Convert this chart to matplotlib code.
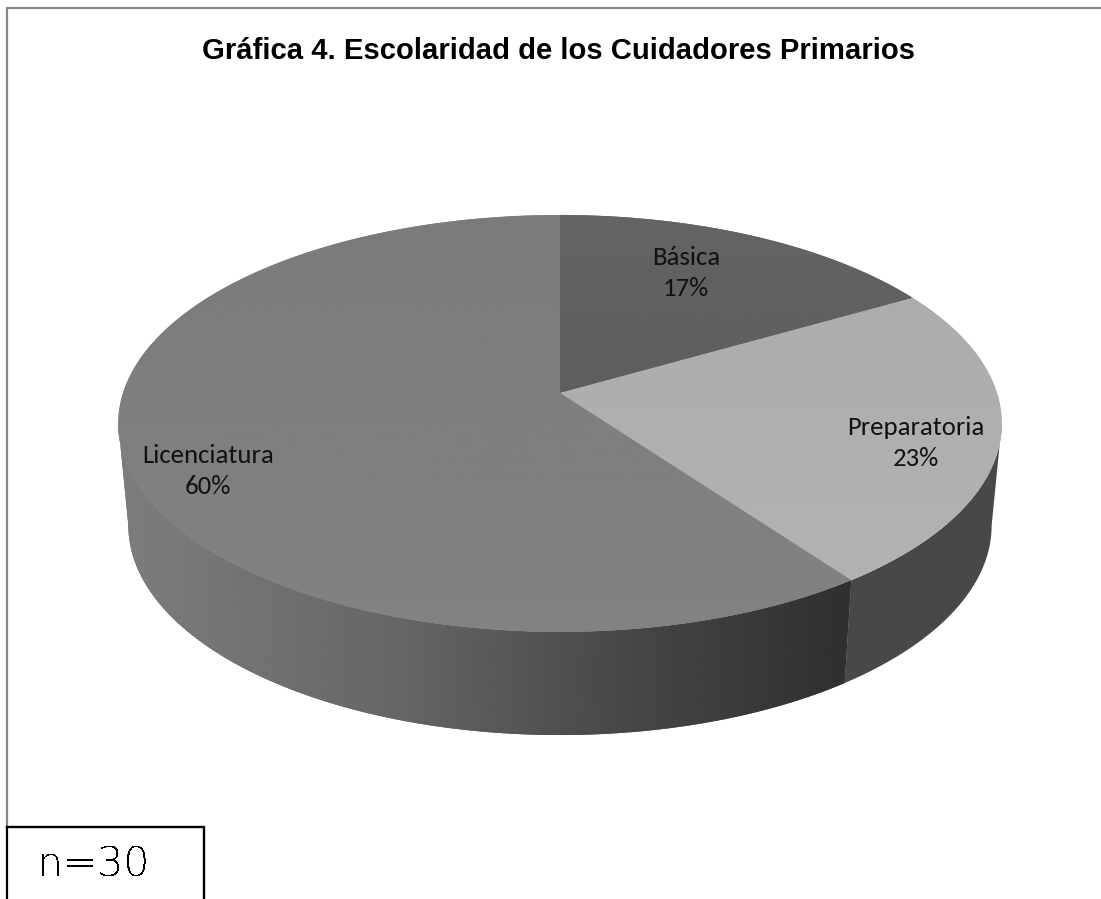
import numpy as np
import matplotlib
matplotlib.use('Agg')
import matplotlib.pyplot as plt
from matplotlib.patches import Polygon

# datos de la grafica (n=30)
categorias = ['Básica', 'Preparatoria', 'Licenciatura']
cuidadores = [5, 7, 18]
titulo = 'Gráfica 4. Escolaridad de los Cuidadores Primarios'
nota = 'n=30'

# tonos de la cara superior (arriba, abajo)
tonos = [('#646464', '#5e5e5e'), ('#acacac', '#b2b2b2'), ('#7b7b7b', '#828282')]

W, H = 1101, 899
K = 0.146   # perspectiva


def borde(theta, cx, cy, a, b):
    # punto del circulo visto en perspectiva
    d = 1 + K * np.cos(theta)
    return cx + a * np.sin(theta) / d, cy - b * np.cos(theta) / d


def arriba(theta):
    return borde(theta, 560, 393, 437, 204)


def abajo(theta):
    return borde(theta, 560, 495, 427, 205)


def pared(t0, t1):
    # contorno de la pared lateral entre dos angulos
    t = np.linspace(t0, t1, 200)
    xa, ya = arriba(t)
    xb, yb = abajo(t)
    return np.column_stack([np.r_[xa, xb[::-1]], np.r_[ya, yb[::-1]]])


fig = plt.figure(figsize=(W / 100, H / 100), dpi=100)
ax = fig.add_axes([0, 0, 1, 1])

fracs = np.array(cuidadores) / sum(cuidadores)
ini = np.concatenate([[0], np.cumsum(fracs)[:-1]]) * 2 * np.pi
fin = np.cumsum(fracs) * 2 * np.pi

# angulo donde la elipse es mas ancha
t_ancho = np.arccos(-K)

# pared lateral
ax.add_patch(Polygon(pared(t_ancho, fin[1]), closed=True, fc='#484848', ec='none', zorder=1))

pts = pared(fin[1], 2 * np.pi - t_ancho)
lado = Polygon(pts, closed=True, fc='#555555', ec='none', zorder=1)
ax.add_patch(lado)
xg = np.linspace(pts[:, 0].min(), pts[:, 0].max(), 512)
grad = np.interp(xg, [130, 400, 620, 845], [0x7c, 0x66, 0x48, 0x30])
im = ax.imshow(np.vstack([grad, grad]), cmap='gray', vmin=0, vmax=255, aspect='auto',
               interpolation='bilinear', zorder=1.1,
               extent=[xg[0], xg[-1], pts[:, 1].max(), pts[:, 1].min()])
im.set_clip_path(lado)

# cara superior
for i in range(len(cuidadores)):
    t = np.linspace(ini[i], fin[i], 200)
    xs, ys = arriba(t)
    pts = np.column_stack([np.r_[560, xs], np.r_[393, ys]])
    cuna = Polygon(pts, closed=True, fc=tonos[i][1], ec='none', zorder=1.5)
    ax.add_patch(cuna)
    g0 = int(tonos[i][0][1:3], 16)
    g1 = int(tonos[i][1][1:3], 16)
    grad = np.linspace(g0, g1, 256).reshape(-1, 1)
    im = ax.imshow(grad, cmap='gray', vmin=0, vmax=255, aspect='auto', zorder=1.6,
                   extent=[pts[:, 0].min(), pts[:, 0].max(), pts[:, 1].max(), pts[:, 1].min()])
    im.set_clip_path(cuna)

# etiquetas
pos_etq = [(686, 273), (916, 443), (208, 471)]
for nombre, f, (x, y) in zip(categorias, fracs, pos_etq):
    ax.text(x, y, '{}\n{:.0f}%'.format(nombre, f * 100), ha='center', va='center',
            fontsize=19.3, family=['Carlito', 'Lato', 'DejaVu Sans'], color='#111111',
            linespacing=1.45)

ax.text(559, 51, titulo, ha='center', va='center', fontsize=21.1,
        fontweight='bold', family=['Liberation Sans'], color='black')

# marco
ax.plot([7, 7, W], [827, 7.5, 7.5], color='#888888', lw=1.6, solid_joinstyle='miter')
ax.plot([7, 7], [H, 827], color='black', lw=1.6)
ax.plot([7, 203.5, 203.5], [827, 827, H], color='black', lw=1.7, solid_joinstyle='miter')
ax.text(94, 865, nota, ha='center', va='center', fontsize=29.5,
        family=['DejaVu Sans'], fontweight='light', color='black', antialiased=False)

ax.set_xlim(0, W)
ax.set_ylim(H, 0)
ax.axis('off')
fig.savefig('out.png', dpi=100)
